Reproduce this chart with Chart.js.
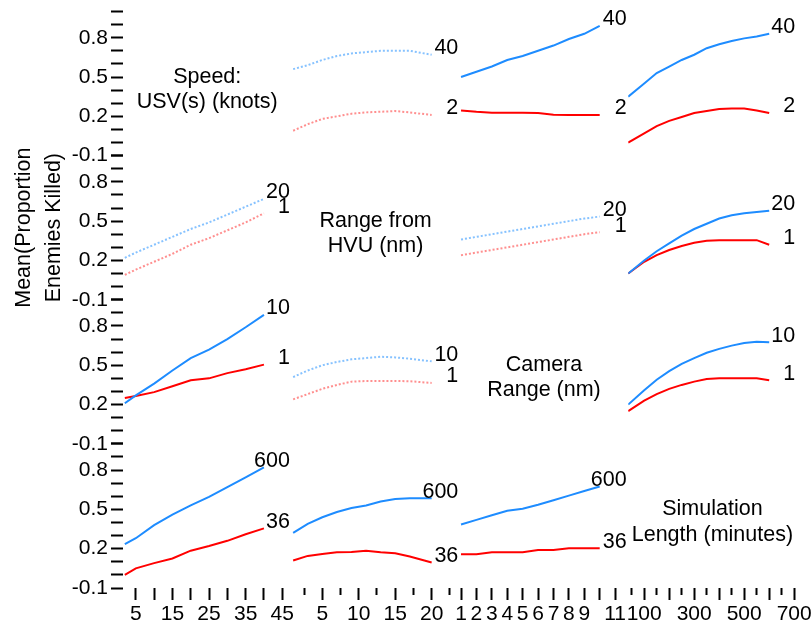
<!DOCTYPE html>
<html>
<head>
<meta charset="utf-8">
<script src="https://cdn.jsdelivr.net/npm/chart.js@4.4.1/dist/chart.umd.min.js"></script>
<style>
  html, body { margin: 0; padding: 0; background: #fff; }
  #wrap { width: 812px; height: 626px; }
</style>
</head>
<body>
<div id="wrap"><canvas id="profiler" width="812" height="626"></canvas></div>
<script>
/* Interaction profiler: Mean(Proportion Enemies Killed), 4 factors x 4 factors */

// ── Factor settings (x values per column) ───────────────────
const SPEED_X  = [2, 5, 10, 15, 20, 25, 30, 35, 40];
const RANGE_X  = [1, 3, 5, 7, 9, 11, 13, 15, 17, 20];
const CAMERA_X = [1, 2, 3, 4, 5, 6, 7, 8, 9, 10];
const SIM_X    = [36, 100, 150, 200, 250, 300, 350, 400, 450, 500, 550, 600];

const FACTOR_NAMES = [
  ['Speed:', 'USV(s) (knots)'],
  ['Range from', 'HVU (nm)'],
  ['Camera', 'Range (nm)'],
  ['Simulation', 'Length (minutes)']
];
// high level (blue) / low level (red) of each row factor
const ROW_LEVELS = [['40', '2'], ['20', '1'], ['10', '1'], ['600', '36']];

// ── Row 1: Speed 40 / 2 ─────────────────────────────────────
const speed40_byRange  = [0.56, 0.59, 0.63, 0.66, 0.68, 0.69, 0.70, 0.70, 0.70, 0.67];
const speed2_byRange   = [0.09, 0.14, 0.18, 0.20, 0.22, 0.23, 0.235, 0.24, 0.23, 0.21];
const speed40_byCamera = [0.50, 0.54, 0.58, 0.63, 0.66, 0.70, 0.74, 0.79, 0.83, 0.89];
const speed2_byCamera  = [0.245, 0.235, 0.228, 0.228, 0.228, 0.225, 0.212, 0.21, 0.21, 0.21];
const speed40_bySim    = [0.35, 0.45, 0.53, 0.58, 0.63, 0.67, 0.72, 0.75, 0.775, 0.795, 0.81, 0.83];
const speed2_bySim     = [0.00, 0.07, 0.125, 0.165, 0.195, 0.225, 0.24, 0.255, 0.26, 0.26, 0.245, 0.225];

// ── Row 2: Range from HVU 20 / 1 ────────────────────────────
const range20_bySpeed  = [0.22, 0.26, 0.32, 0.38, 0.44, 0.49, 0.55, 0.61, 0.67];
const range1_bySpeed   = [0.09, 0.13, 0.19, 0.25, 0.32, 0.37, 0.43, 0.49, 0.56];
const range20_byCamera = [0.36, 0.38, 0.40, 0.42, 0.44, 0.46, 0.48, 0.50, 0.52, 0.535];
const range1_byCamera  = [0.24, 0.26, 0.28, 0.30, 0.32, 0.34, 0.36, 0.38, 0.40, 0.415];
const range20_bySim    = [0.10, 0.20, 0.27, 0.33, 0.39, 0.44, 0.48, 0.52, 0.545, 0.56, 0.57, 0.58];
const range1_bySim     = [0.10, 0.19, 0.24, 0.28, 0.31, 0.335, 0.35, 0.355, 0.355, 0.355, 0.355, 0.32];

// ── Row 3: Camera Range 10 / 1 ──────────────────────────────
const camera10_bySpeed = [0.21, 0.27, 0.36, 0.46, 0.555, 0.62, 0.70, 0.79, 0.885];
const camera1_bySpeed  = [0.25, 0.265, 0.295, 0.34, 0.385, 0.40, 0.44, 0.47, 0.505];
const camera10_byRange = [0.41, 0.46, 0.50, 0.525, 0.545, 0.555, 0.565, 0.56, 0.55, 0.53];
const camera1_byRange  = [0.24, 0.28, 0.32, 0.35, 0.375, 0.38, 0.38, 0.38, 0.378, 0.365];
const camera10_bySim   = [0.20, 0.31, 0.39, 0.455, 0.51, 0.555, 0.595, 0.625, 0.65, 0.67, 0.68, 0.675];
const camera1_bySim    = [0.15, 0.23, 0.28, 0.32, 0.35, 0.375, 0.395, 0.40, 0.40, 0.40, 0.40, 0.385];

// ── Row 4: Simulation Length 600 / 36 ───────────────────────
const sim600_bySpeed   = [0.235, 0.28, 0.38, 0.46, 0.53, 0.595, 0.67, 0.745, 0.82];
const sim36_bySpeed    = [0.00, 0.05, 0.09, 0.125, 0.185, 0.22, 0.26, 0.31, 0.355];
const sim600_byRange   = [0.32, 0.39, 0.44, 0.48, 0.51, 0.53, 0.56, 0.58, 0.585, 0.585];
const sim36_byRange    = [0.11, 0.145, 0.16, 0.172, 0.175, 0.185, 0.172, 0.165, 0.14, 0.095];
const sim600_byCamera  = [0.385, 0.42, 0.455, 0.49, 0.505, 0.535, 0.57, 0.605, 0.64, 0.675];
const sim36_byCamera   = [0.157, 0.157, 0.172, 0.172, 0.172, 0.19, 0.19, 0.203, 0.203, 0.203];

// ── Axis ticks ──────────────────────────────────────────────
const Y_LABELS  = [-0.1, 0.2, 0.5, 0.8];
const X_MIN     = [1.5, 0.76, 0.92, 36];
const X_MAX     = [47.5, 23.86, 11.85, 709.6];
const X_STEP    = [5, 2.5, 1, 50];
const X_LABELS  = [
  [5, 15, 25, 35, 45],
  [5, 10, 15, 20],
  [1, 2, 3, 4, 5, 6, 7, 8, 9, 11],
  [100, 300, 500, 700]
];
const X_MAJOR   = [
  [5, 10, 15, 20, 25, 30, 35, 40, 45],
  [5, 10, 15, 20],
  [1, 2, 3, 4, 5, 6, 7, 8, 9, 10, 11],
  [100, 200, 300, 400, 500, 600, 700]
];

const COL_X = [SPEED_X, RANGE_X, CAMERA_X, SIM_X];

// cell = row factor (lines) x column factor (x axis)
const CELLS = [
  { row: 0, col: 1, hi: speed40_byRange,  lo: speed2_byRange,  dotted: true  },
  { row: 0, col: 2, hi: speed40_byCamera, lo: speed2_byCamera, dotted: false },
  { row: 0, col: 3, hi: speed40_bySim,    lo: speed2_bySim,    dotted: false },
  { row: 1, col: 0, hi: range20_bySpeed,  lo: range1_bySpeed,  dotted: true  },
  { row: 1, col: 2, hi: range20_byCamera, lo: range1_byCamera, dotted: true  },
  { row: 1, col: 3, hi: range20_bySim,    lo: range1_bySim,    dotted: false },
  { row: 2, col: 0, hi: camera10_bySpeed, lo: camera1_bySpeed, dotted: false },
  { row: 2, col: 1, hi: camera10_byRange, lo: camera1_byRange, dotted: true  },
  { row: 2, col: 3, hi: camera10_bySim,   lo: camera1_bySim,   dotted: false },
  { row: 3, col: 0, hi: sim600_bySpeed,   lo: sim36_bySpeed,   dotted: false },
  { row: 3, col: 1, hi: sim600_byRange,   lo: sim36_byRange,   dotted: false },
  { row: 3, col: 2, hi: sim600_byCamera,  lo: sim36_byCamera,  dotted: false }
];

const BLUE     = '#1e8cff';
const RED      = '#ff0000';
const BLUE_DOT = '#86c2ff';
const RED_DOT  = '#ff8f8f';
const FONT     = "'Liberation Sans', Arial, Helvetica, sans-serif";

// ── Datasets ────────────────────────────────────────────────
const datasets = [];
CELLS.forEach(c => {
  const xs = COL_X[c.col];
  [[c.hi, 0], [c.lo, 1]].forEach(([vals, k]) => {
    const solid = k === 0 ? BLUE : RED;
    const dot   = k === 0 ? BLUE_DOT : RED_DOT;
    datasets.push({
      data:        vals.map((v, i) => ({ x: xs[i], y: v })),
      xAxisID:     'x' + c.col,
      yAxisID:     'y' + c.row,
      borderColor: c.dotted ? dot : solid,
      borderWidth: 2,
      borderDash:  c.dotted ? [2, 2] : [],
      pointRadius: 0,
      tension:     0,
      fill:        false,
      levelLabel:  ROW_LEVELS[c.row][k]
    });
  });
});

// ── Scales ──────────────────────────────────────────────────
function zeroPad(scale) {
  scale.paddingTop = 0; scale.paddingBottom = 0;
  scale.paddingLeft = 0; scale.paddingRight = 0;
}

const scales = {};
for (let r = 0; r < 4; r++) {
  scales['y' + r] = {
    type: 'linear', position: 'left', stack: 'grid', stackWeight: 1,
    weight: 4 - r,
    min: -0.1, max: 1.0,
    border: { display: false },
    grid: { drawOnChartArea: false, tickLength: 12, tickWidth: 2, tickColor: '#000' },
    ticks: {
      stepSize: 0.1, autoSkip: false, includeBounds: false, padding: 3,
      color: '#000', font: { family: FONT, size: 21, lineHeight: 1.2 },
      callback: v => {
        const t = Math.round(v * 10) / 10;
        return Y_LABELS.includes(t) ? String(t) : '';
      }
    },
    title: {
      display: r === 1,
      text: ['Mean(Proportion', 'Enemies Killed)'],
      color: '#000',
      font: { family: FONT, size: 21.5, lineHeight: '30px' },
      padding: { top: 9, bottom: 0 }
    },
    afterFit: s => { s.width = 123; zeroPad(s); }
  };
}
for (let c = 0; c < 4; c++) {
  scales['x' + c] = {
    type: 'linear', position: 'bottom', stack: 'grid', stackWeight: 1,
    weight: c + 1,
    min: X_MIN[c], max: X_MAX[c],
    border: { display: false },
    grid: {
      drawOnChartArea: false, tickLength: 12, tickWidth: 2, tickColor: '#000',
      tickBorderDash: ctx => (ctx.tick && X_MAJOR[c].includes(ctx.tick.value)) ? [] : [7, 30]
    },
    ticks: {
      stepSize: X_STEP[c], autoSkip: false, includeBounds: false, maxRotation: 0, padding: 2,
      color: '#000', font: { family: FONT, size: 21, lineHeight: 1.2 },
      callback: v => X_LABELS[c].includes(v) ? String(v) : ''
    },
    afterFit: s => { s.height = 38; zeroPad(s); }
  };
}

// ── Text plugin: level labels at line ends, factor names on diagonal ──
const profileText = {
  id: 'profileText',
  afterDatasetsDraw(chart) {
    const ctx = chart.ctx;
    ctx.save();
    ctx.fillStyle = '#000';
    ctx.font = `21.5px ${FONT}`;
    ctx.textAlign = 'right';
    ctx.textBaseline = 'middle';
    chart.data.datasets.forEach((ds, i) => {
      const pts = chart.getDatasetMeta(i).data;
      const last = pts[pts.length - 1];
      const xs = chart.scales[ds.xAxisID];
      ctx.fillText(ds.levelLabel, xs.right - 1.5, last.y - 6.5);
    });

    ctx.textAlign = 'center';
    FACTOR_NAMES.forEach((lines, k) => {
      const xs = chart.scales['x' + k];
      const ys = chart.scales['y' + k];
      const cx = (xs.left + xs.right) / 2;
      const cy = (ys.top + ys.bottom) / 2 + 6;
      ctx.fillText(lines[0], cx, cy - 12.75);
      ctx.fillText(lines[1], cx, cy + 12.75);
    });
    ctx.restore();
  }
};

new Chart(document.getElementById('profiler'), {
  type: 'line',
  data: { datasets },
  options: {
    responsive: false,
    animation: false,
    devicePixelRatio: 1,
    layout: { padding: { left: 0, top: 11.5, right: 15.4, bottom: 0 } },
    plugins: { legend: { display: false }, tooltip: { enabled: false } },
    scales
  },
  plugins: [profileText]
});
</script>
</body>
</html>
